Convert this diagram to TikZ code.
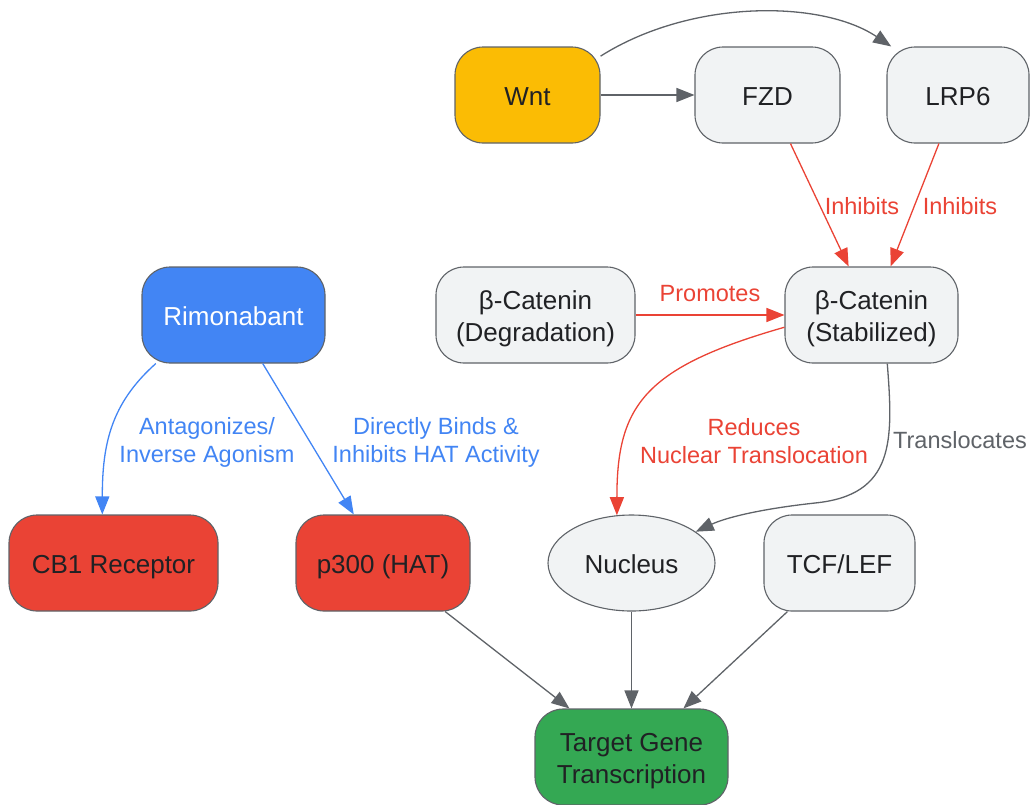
\documentclass[tikz,border=0pt]{standalone}
\usepackage{fontspec}
\setmainfont{Liberation Sans}
\usetikzlibrary{arrows.meta,shapes.geometric}
\definecolor{cgray}{HTML}{5F6368}
\definecolor{cfill}{HTML}{F1F3F4}
\definecolor{cyel}{HTML}{FBBC04}
\definecolor{cblue}{HTML}{4285F4}
\definecolor{cred}{HTML}{EA4335}
\definecolor{cgreen}{HTML}{34A853}
\definecolor{ctext}{HTML}{202124}
\newcommand{\boxtext}[1]{\raisebox{-10.5pt}[0pt][0pt]{\begin{tabular}{@{}c@{}}#1\end{tabular}}}
\begin{document}
\begin{tikzpicture}[x=1pt,y=-1pt,
  box/.style={draw=cgray, line width=1.1pt, rounded corners=28pt, minimum height=96pt, align=center, font=\fontsize{26}{32}\selectfont, text=ctext, inner sep=0pt},
  ell/.style={ellipse, draw=cgray, line width=1.1pt, minimum height=96pt, align=center, font=\fontsize{26}{32}\selectfont, text=ctext, inner sep=0pt},
  lbl/.style={align=center, font=\fontsize{23.5}{28}\selectfont, inner sep=0pt},
  arr/.style={-{Triangle[length=18pt,width=14pt]}, line width=1.3pt},
]
\useasboundingbox (0,0) rectangle (1030,804);

\node[box, fill=cyel, minimum width=145pt] (wnt) at (527.5,95) {\boxtext{Wnt}};
\node[box, fill=cfill, minimum width=145pt] (fzd) at (767.5,95) {\boxtext{FZD}};
\node[box, fill=cfill, minimum width=142pt] (lrp6) at (958,95) {\boxtext{LRP6}};
\node[box, fill=cfill, minimum width=199pt] (deg) at (535.5,315) {\boxtext{β-Catenin\\(Degradation)}};
\node[box, fill=cfill, minimum width=173pt] (stab) at (871.5,315) {\boxtext{β-Catenin\\(Stabilized)}};
\node[box, fill=cblue, text=white, minimum width=183pt] (rim) at (233.5,315) {\boxtext{Rimonabant}};
\node[box, fill=cred, minimum width=209pt] (cb1) at (113.5,563) {\boxtext{CB1 Receptor}};
\node[box, fill=cred, minimum width=174pt] (p300) at (383,563) {\boxtext{p300 (HAT)}};
\node[ell, fill=cfill, minimum width=167pt] (nuc) at (631.5,563) {\boxtext{Nucleus}};
\node[box, fill=cfill, minimum width=151pt] (tcf) at (839.5,563) {\boxtext{TCF/LEF}};
\node[box, fill=cgreen, minimum width=193pt] (tgt) at (631.5,757) {\boxtext{Target Gene\\Transcription}};

\coordinate (tbend) at (815,503);

\draw[arr, cgray] (wnt) -- (fzd);
\draw[arr, cgray] (wnt.28) .. controls +(90,-57) and +(-70,-47) .. (lrp6.144);
\draw[arr, cred] (fzd) -- (stab);
\draw[arr, cred] (lrp6) -- (stab);
\draw[arr, cred] (deg) -- (stab);
\draw[arr, cred] (stab.188) .. controls +(-140,40) and +(0,-110) .. (nuc.107);
\draw[arr, cgray] (stab.-72) .. controls +(6,77) and +(80,-8) .. (tbend) .. controls +(-55,6) and +(30,-14) .. (nuc.26);
\draw[arr, cblue] (rim.212) .. controls +(-45,40) and +(0,-70) .. (cb1.103.5);
\draw[arr, cblue] (rim) -- (p300);
\draw[arr, cgray] (p300) -- (tgt);
\draw[arr, cgray] (nuc) -- (tgt);
\draw[arr, cgray] (tcf) -- (tgt);

\node[lbl, text=cred] (l1) at (862,206) {Inhibits};
\node[lbl, text=cred] (l2) at (960,206) {Inhibits};
\node[lbl, text=cred] (l3) at (710,294) {Promotes};
\node[lbl, text=cred] (l4) at (754,441) {Reduces\\Nuclear Translocation};
\node[lbl, text=cgray] (l5) at (960,440) {Translocates};
\node[lbl, text=cblue] (l6) at (207,442) {Antagonizes/\\Inverse Agonism};
\node[lbl, text=cblue] (l7) at (436,442) {Directly Binds \&\\Inhibits HAT Activity};
\end{tikzpicture}
\end{document}
